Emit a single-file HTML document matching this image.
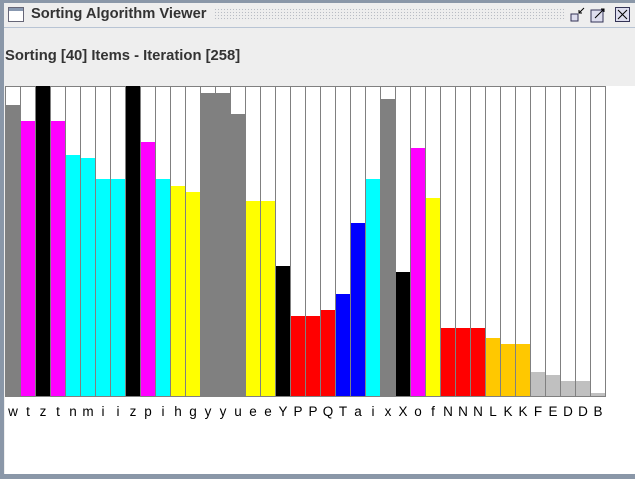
<!DOCTYPE html>
<html><head><meta charset="utf-8"><style>
body{margin:0;width:635px;height:477px;overflow:hidden;background:#8a97a8;font-family:"Liberation Sans","DejaVu Sans",sans-serif}
#win{position:absolute;left:4px;top:3px;width:631px;height:471px;background:#eeeeee}
#titlebar{position:absolute;left:0;top:0;width:631px;height:24px;background:#eeeeee;border-bottom:1px solid #b8c4d4}
#title{position:absolute;left:27px;top:3px;font-size:14.7px;font-weight:bold;color:#333}
#dots{position:absolute;left:210px;top:5px;width:352px;height:13px;background-image:radial-gradient(#b8bcc4 0.6px,transparent 0.8px);background-size:3px 3px}
#status{position:absolute;left:1px;top:45px;font-size:14.8px;font-weight:bold;color:#333}
#chart{position:absolute;left:1px;top:83px;width:630px;height:388px;background:#fff}
</style></head><body>
<div id="win">
 <div id="titlebar">
  <svg style="position:absolute;left:4px;top:4px" width="16" height="15"><rect x="0.5" y="0.5" width="15" height="14" fill="#fff" stroke="#667"/><rect x="1" y="1" width="14" height="3" fill="#8898b0"/></svg>
  <div id="title">Sorting Algorithm Viewer</div>
  <div id="dots"></div>
  <svg style="position:absolute;left:566px;top:4px" width="16" height="16"><rect x="1" y="7" width="7" height="7" fill="#dde" stroke="#335"/><path d="M9 6L14 1M9 3v3h3" stroke="#000" fill="none"/></svg>
  <svg style="position:absolute;left:586px;top:4px" width="16" height="16"><rect x="1" y="3" width="12" height="12" fill="#dde" stroke="#335"/><path d="M5 11L14 2M11 2h3v3" stroke="#000" fill="none"/></svg>
  <svg style="position:absolute;left:611px;top:4px" width="16" height="16"><rect x="0.5" y="0.5" width="14" height="14" fill="#dde" stroke="#335"/><path d="M3 3L12 12M12 3L3 12" stroke="#000"/></svg>
 </div>
 <div id="status">Sorting [40] Items - Iteration [258]</div>
 <div id="chart">
  <svg id="svg" width="630" height="388"></svg>
 </div>
</div>
<script>
const labels=["w","t","z","t","n","m","i","i","z","p","i","h","g","y","y","u","e","e","Y","P","P","Q","T","a","i","x","X","o","f","N","N","N","L","K","K","F","E","D","D","B"];
const values=[291,275,310,275,241,238,217,217,310,254,217,210,204,303,303,282,195,195,130,80,80,86,102,173,217,297,124,248,198,68,68,68,58,52,52,24,21,15,15,3];
const colors=["#808080","#ff00ff","#000000","#ff00ff","#00ffff","#00ffff","#00ffff","#00ffff","#000000","#ff00ff","#00ffff","#ffff00","#ffff00","#808080","#808080","#808080","#ffff00","#ffff00","#000000","#ff0000","#ff0000","#ff0000","#0000ff","#0000ff","#00ffff","#808080","#000000","#ff00ff","#ffff00","#ff0000","#ff0000","#ff0000","#ffc800","#ffc800","#ffc800","#c0c0c0","#c0c0c0","#c0c0c0","#c0c0c0","#c0c0c0"];
const maxV=310, plotX0=0, bw=15, plotBase=310, plotTop=0;
const svg=document.getElementById('svg'), NS="http://www.w3.org/2000/svg";
const xs=i=>plotX0+i*bw, ys=v=>plotBase-(v/maxV)*(plotBase-plotTop);
labels.forEach((l,i)=>{
 const slot=document.createElementNS(NS,'rect');
 
 
 slot.setAttribute('x',xs(i)+0.5);slot.setAttribute('y',plotTop+0.5);slot.setAttribute('width',bw);slot.setAttribute('height',plotBase-plotTop);
 slot.setAttribute('fill','#fff');slot.setAttribute('stroke','#808080');
 svg.appendChild(slot);
});
labels.forEach((l,i)=>{
 const r=document.createElementNS(NS,'rect');
 
 
 const y=ys(values[i]);
 r.setAttribute('x',xs(i)+1);r.setAttribute('y',y);r.setAttribute('width',bw-1);r.setAttribute('height',plotBase-y);
 r.setAttribute('fill',colors[i]);
 svg.appendChild(r);
 const t=document.createElementNS(NS,'text');
 
 
 t.setAttribute('x',xs(i)+bw/2+0.5);t.setAttribute('y',plotBase+20);t.setAttribute('text-anchor','middle');
 t.setAttribute('font-size','13.5');t.setAttribute('font-family','"Liberation Sans",sans-serif');
 t.textContent=l;svg.appendChild(t);
});
const ax=document.createElementNS(NS,'line');


ax.setAttribute('x1',0);ax.setAttribute('x2',xs(40)+1);ax.setAttribute('y1',plotBase+0.5);ax.setAttribute('y2',plotBase+0.5);ax.setAttribute('stroke','#808080');
svg.appendChild(ax);
</script>
</body></html>
